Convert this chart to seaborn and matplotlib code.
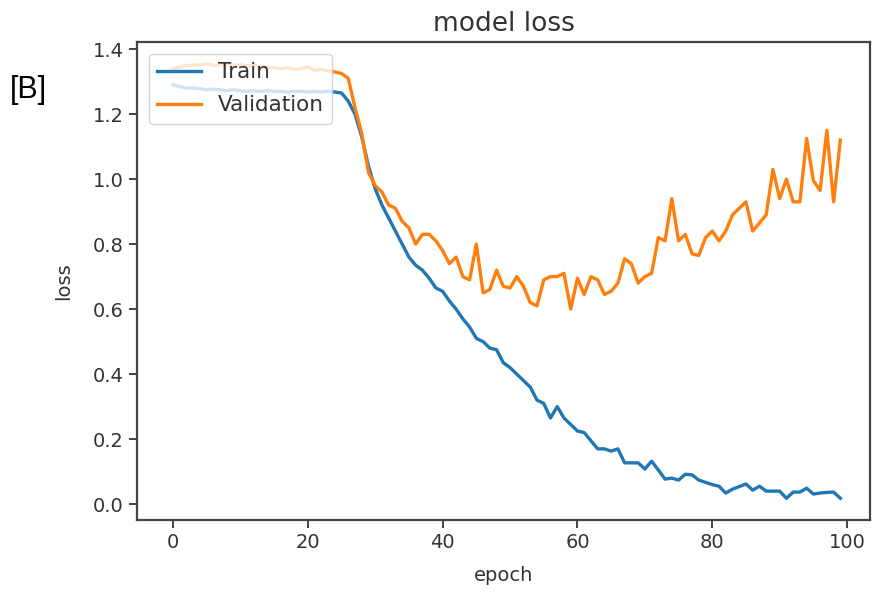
import numpy as np
import pandas as pd
import matplotlib
matplotlib.use("Agg")
import matplotlib.pyplot as plt
import seaborn as sns

# Training history: loss per epoch
epochs = list(range(100))

train_loss = [
    1.290, 1.285, 1.280, 1.280, 1.278, 1.275, 1.277, 1.275, 1.272, 1.275,
    1.272, 1.270, 1.272, 1.270, 1.272, 1.270, 1.270, 1.268, 1.270, 1.270,
    1.268, 1.270, 1.268, 1.270, 1.268, 1.265, 1.240, 1.200, 1.130, 1.040,
    0.970, 0.920, 0.880, 0.840, 0.800, 0.760, 0.735, 0.720, 0.695, 0.665,
    0.655, 0.625, 0.600, 0.570, 0.545, 0.510, 0.500, 0.480, 0.475, 0.435,
    0.420, 0.400, 0.380, 0.360, 0.320, 0.310, 0.265, 0.300, 0.265, 0.245,
    0.225, 0.220, 0.195, 0.170, 0.170, 0.163, 0.170, 0.127, 0.127, 0.127,
    0.108, 0.132, 0.105, 0.077, 0.080, 0.074, 0.092, 0.090, 0.074, 0.067,
    0.060, 0.055, 0.034, 0.046, 0.054, 0.062, 0.043, 0.055, 0.040, 0.040,
    0.040, 0.018, 0.037, 0.037, 0.049, 0.031, 0.034, 0.036, 0.037, 0.018,
]

val_loss = [
    1.340, 1.345, 1.350, 1.350, 1.352, 1.355, 1.350, 1.352, 1.355, 1.350,
    1.352, 1.348, 1.350, 1.345, 1.345, 1.342, 1.340, 1.342, 1.338, 1.340,
    1.345, 1.335, 1.338, 1.333, 1.330, 1.325, 1.310, 1.220, 1.140, 1.020,
    0.980, 0.960, 0.920, 0.910, 0.870, 0.850, 0.800, 0.830, 0.830, 0.810,
    0.780, 0.740, 0.760, 0.700, 0.690, 0.800, 0.650, 0.660, 0.720, 0.670,
    0.665, 0.700, 0.670, 0.620, 0.610, 0.690, 0.700, 0.700, 0.710, 0.600,
    0.695, 0.645, 0.700, 0.690, 0.645, 0.655, 0.680, 0.755, 0.740, 0.680,
    0.700, 0.710, 0.820, 0.810, 0.940, 0.810, 0.830, 0.770, 0.765, 0.820,
    0.840, 0.810, 0.840, 0.890, 0.910, 0.930, 0.840, 0.865, 0.890, 1.030,
    0.940, 1.000, 0.930, 0.930, 1.125, 0.995, 0.965, 1.150, 0.930, 1.120,
]

series_names = ["Train", "Validation"]
series_colors = ["#1f77b4", "#ff7f0e"]

df = pd.DataFrame({
    "epoch": epochs * 2,
    "loss": train_loss + val_loss,
    "series": [series_names[0]] * len(epochs) + [series_names[1]] * len(epochs),
})

text_color = "#333333"
plt.rcParams["font.family"] = ["DejaVu Sans"]

fig = plt.figure(figsize=(8.74, 5.97), dpi=100)
ax = fig.add_axes([137 / 874, 1 - 520 / 597, (870 - 137) / 874, (520 - 42) / 597])

sns.lineplot(data=df, x="epoch", y="loss", hue="series",
             palette=series_colors, linewidth=2.4, ax=ax)

ax.set_xlim(-5.34, 103.4)
ax.set_title("model loss", fontsize=19, color=text_color, pad=8)
ax.set_xlabel("epoch", fontsize=14, color=text_color, labelpad=10)
ax.set_ylabel("loss", fontsize=14, color=text_color, labelpad=14)
ax.set_xticks([0, 20, 40, 60, 80, 100])
ax.set_yticks([0.0, 0.2, 0.4, 0.6, 0.8, 1.0, 1.2, 1.4])
ax.tick_params(labelsize=14, colors=text_color, length=6, width=1.3)
for sp in ax.spines.values():
    sp.set_linewidth(1.6)
    sp.set_color("#444444")

handles, labels = ax.get_legend_handles_labels()
leg = ax.legend(handles, labels, loc="upper left", fontsize=15.5,
                framealpha=0.8, handlelength=2.0, borderaxespad=0.55,
                labelspacing=0.6)
for t in leg.get_texts():
    t.set_color(text_color)

fig.text(10 / 874, 1 - 90 / 597, "[B]", fontsize=22, va="center", ha="left",
         family=["Liberation Sans", "DejaVu Sans"], color="black")

fig.savefig("out.png", dpi=100)
